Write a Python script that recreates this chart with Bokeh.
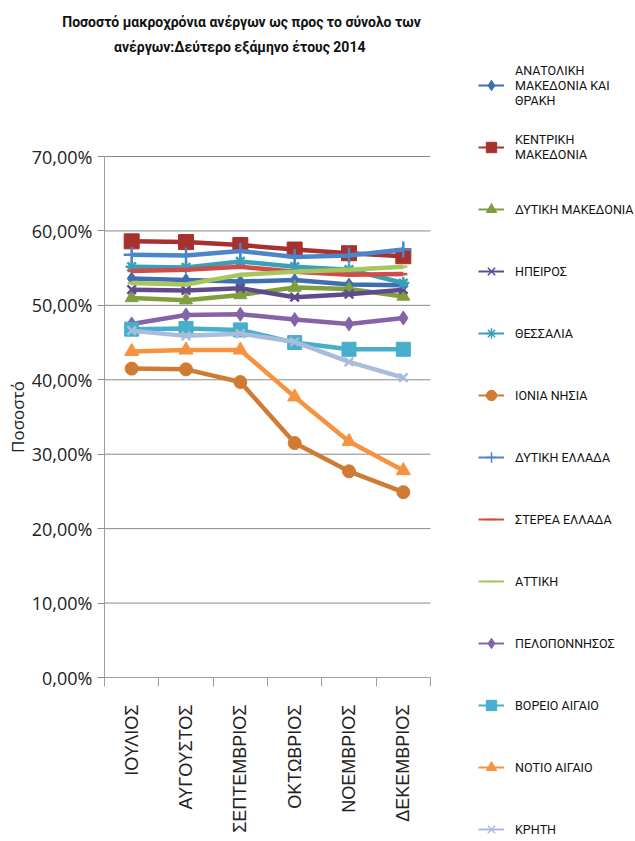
import math
from bokeh.plotting import figure
from bokeh.models import Range1d, FixedTicker, CustomJSTickFormatter, Legend, LegendItem
from bokeh.embed import file_html
from bokeh.resources import INLINE
from bokeh.core.properties import value

# ---------------- data ----------------
months = ["ΙΟΥΛΙΟΣ", "ΑΥΓΟΥΣΤΟΣ", "ΣΕΠΤΕΜΒΡΙΟΣ", "ΟΚΤΩΒΡΙΟΣ", "ΝΟΕΜΒΡΙΟΣ", "ΔΕΚΕΜΒΡΙΟΣ"]

regions = [
    "ΑΝΑΤΟΛΙΚΗ\nΜΑΚΕΔΟΝΙΑ ΚΑΙ\nΘΡΑΚΗ",
    "ΚΕΝΤΡΙΚΗ\nΜΑΚΕΔΟΝΙΑ",
    "ΔΥΤΙΚΗ ΜΑΚΕΔΟΝΙΑ",
    "ΗΠΕΙΡΟΣ",
    "ΘΕΣΣΑΛΙΑ",
    "ΙΟΝΙΑ ΝΗΣΙΑ",
    "ΔΥΤΙΚΗ ΕΛΛΑΔΑ",
    "ΣΤΕΡΕΑ ΕΛΛΑΔΑ",
    "ΑΤΤΙΚΗ",
    "ΠΕΛΟΠΟΝΝΗΣΟΣ",
    "ΒΟΡΕΙΟ ΑΙΓΑΙΟ",
    "ΝΟΤΙΟ ΑΙΓΑΙΟ",
    "ΚΡΗΤΗ",
]

anatoliki_makedonia_thraki = [53.6, 53.4, 53.2, 53.4, 52.8, 52.7]
kentriki_makedonia = [58.6, 58.5, 58.1, 57.5, 57.0, 56.6]
dytiki_makedonia = [51.0, 50.7, 51.4, 52.4, 52.2, 51.2]
ipeiros = [52.1, 52.0, 52.3, 51.1, 51.5, 52.1]
thessalia = [55.2, 55.1, 55.9, 55.2, 54.8, 53.0]
ionia_nisia = [41.5, 41.4, 39.7, 31.5, 27.7, 24.9]
dytiki_ellada = [56.8, 56.7, 57.3, 56.5, 56.7, 57.5]
sterea_ellada = [54.6, 54.8, 55.2, 54.5, 54.1, 54.2]
attiki = [53.0, 52.8, 54.1, 54.5, 54.8, 55.2]
peloponnisos = [47.5, 48.7, 48.8, 48.1, 47.5, 48.3]
voreio_aigaio = [46.8, 46.9, 46.7, 45.0, 44.1, 44.1]
notio_aigaio = [43.8, 44.0, 44.0, 37.7, 31.7, 27.8]
kriti = [46.6, 45.9, 46.2, 45.1, 42.4, 40.3]

series_values = [
    anatoliki_makedonia_thraki, kentriki_makedonia, dytiki_makedonia, ipeiros,
    thessalia, ionia_nisia, dytiki_ellada, sterea_ellada, attiki,
    peloponnisos, voreio_aigaio, notio_aigaio, kriti,
]

y_ticks = [0, 10, 20, 30, 40, 50, 60, 70]

title_lines = [
    "Ποσοστό μακροχρόνια ανέργων ως προς το σύνολο των",
    "ανέργων:Δεύτερο  εξάμηνο έτους 2014",
]
y_title = "Ποσοστό"

# ---------------- styles / layout ----------------
colors = ["#3f6fb0", "#a6312e", "#7f9f3e", "#5f4b8b", "#3aa0b8", "#d07b34",
          "#4a86c8", "#d04c48", "#a7c75e", "#8464a6", "#47aecb", "#f7923f", "#a9bcdb"]
markers = ["diamond", "square", "triangle", "x", "asterisk", "circle",
           "cross", "dash", "dash", "diamond", "square", "triangle", "x"]
sizes = [13, 15, 13, 12, 12, 13, 16, 8, 8, 14, 14, 14, 12]
line_markers = {"x", "asterisk", "cross", "dash"}

FONT_MAIN = "Open Sans"
FONT_LEG = "Roboto"

W, H = 635, 841
# plot area in page pixels
FRAME_L, FRAME_R, FRAME_T, FRAME_B = 104, 430, 156, 677
Y_MAX = 70
n = len(months)
ux = n / (FRAME_R - FRAME_L)          # data units per pixel (x)
uy = Y_MAX / (FRAME_B - FRAME_T)      # data units per pixel (y)
x_start = -FRAME_L * ux
y_start = -(H - FRAME_B) * uy

p = figure(width=W, height=H,
           x_range=Range1d(x_start, x_start + W * ux),
           y_range=Range1d(y_start, y_start + H * uy),
           output_backend="svg", toolbar_location=None, min_border=0)
p.extra_x_ranges = {"px": Range1d(0, W)}
p.extra_y_ranges = {"py": Range1d(H, 0)}
p.outline_line_color = None
p.grid.visible = False

xs = [i + 0.5 for i in range(n)]

# horizontal gridlines across the plot area only
p.segment(x0=[0] * len(y_ticks), x1=[n] * len(y_ticks), y0=y_ticks, y1=y_ticks,
          line_color="#8a8a8a", line_width=1)

# y axis
p.yaxis.fixed_location = 0
p.yaxis.bounds = (0, Y_MAX)
p.yaxis.ticker = FixedTicker(ticks=y_ticks)
p.yaxis.formatter = CustomJSTickFormatter(code="return tick.toFixed(2).replace('.', ',') + '%';")
p.yaxis.axis_line_color = "#a0a0a0"
p.yaxis.major_tick_line_color = "#8a8a8a"
p.yaxis.major_tick_out = 7
p.yaxis.major_tick_in = 0
p.yaxis.minor_tick_line_color = None
p.yaxis.major_label_text_font = FONT_MAIN
p.yaxis.major_label_text_font_size = "18px"
p.yaxis.major_label_text_color = "#222222"
p.yaxis.major_label_standoff = 5
p.yaxis.axis_label = y_title
p.yaxis.axis_label_text_font = FONT_MAIN
p.yaxis.axis_label_text_font_size = "17px"
p.yaxis.axis_label_text_font_style = "normal"
p.yaxis.axis_label_text_color = "#222222"
p.yaxis.axis_label_standoff = 0

# x axis
p.xaxis.fixed_location = 0
p.xaxis.bounds = (0, n)
p.xaxis.ticker = FixedTicker(ticks=xs, minor_ticks=list(range(n + 1)))
p.xaxis.major_label_overrides = {x: m for x, m in zip(xs, months)}
p.xaxis.major_label_orientation = math.pi / 2
p.xaxis.axis_line_color = "#a0a0a0"
p.xaxis.major_tick_line_color = None
p.xaxis.major_tick_out = 0
p.xaxis.major_tick_in = 0
p.xaxis.minor_tick_line_color = "#a0a0a0"
p.xaxis.minor_tick_out = 9
p.xaxis.minor_tick_in = 0
p.xaxis.major_label_text_font = "Liberation Sans"
p.xaxis.major_label_text_font_size = "18px"
p.xaxis.major_label_text_color = "#222222"
p.xaxis.major_label_standoff = 18

# thin legend-style renderers, drawn first so the thick series lines cover them
items = []
for name, vals, c, m in zip(regions, series_values, colors, markers):
    lr = p.line(xs, vals, line_color=c, line_width=2)
    if m in line_markers:
        mr = p.scatter(xs, vals, marker=m, size=7, line_color=c, line_width=1.5)
    else:
        mr = p.scatter(xs, vals, marker=m, size=8, fill_color=c, line_color=c)
    items.append(LegendItem(label=name, renderers=[lr, mr]))

for vals, c, m, s in zip(series_values, colors, markers, sizes):
    p.line(xs, vals, line_color=c, line_width=4.5, line_join="round")
    if m in line_markers:
        p.scatter(xs, vals, marker=m, size=s, line_color=c, line_width=2.5)
    else:
        p.scatter(xs, vals, marker=m, size=s, fill_color=c, line_color=c)

# legend to the right of the plot area
LEG_X, LEG_TOP, ITEM_H, GLYPH_W = 478, 54, 62, 26
leg_h = ITEM_H * len(regions)
legend = Legend(items=items, location=(LEG_X, H - LEG_TOP - leg_h), orientation="vertical",
                glyph_width=GLYPH_W, glyph_height=ITEM_H, label_height=ITEM_H, spacing=0,
                label_standoff=11, padding=0, margin=0,
                border_line_color=None, background_fill_alpha=0,
                label_text_font=FONT_LEG, label_text_font_size="12.5px",
                label_text_color="#111111")
p.add_layout(legend, "center")

# two-line title, in page-pixel coordinates
TITLE_CX, TITLE_Y = 241, [21, 46]
p.text(x=[TITLE_CX] * len(title_lines), y=TITLE_Y, text=title_lines,
       x_range_name="px", y_range_name="py",
       text_align="center", text_baseline="alphabetic",
       text_font=value(FONT_LEG), text_font_size="14px", text_font_style="bold",
       text_color="#111111")

open("out.html", "w").write(file_html(p, INLINE))
